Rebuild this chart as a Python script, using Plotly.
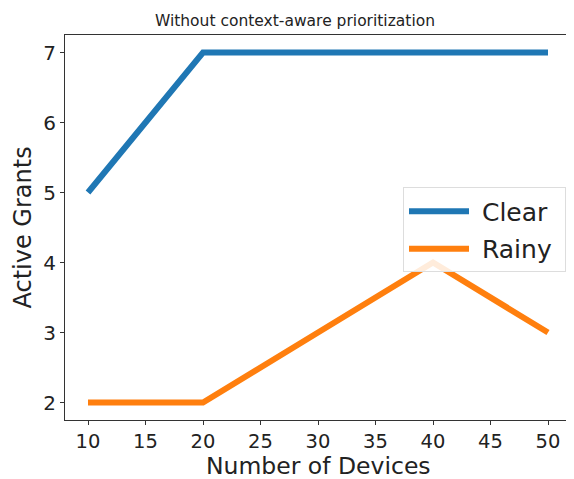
import plotly.graph_objects as go

devices = [10, 20, 30, 40, 50]
clear = [5, 7, 7, 7, 7]
rainy = [2, 2, 3, 4, 3]
x_ticks = [10, 15, 20, 25, 30, 35, 40, 45, 50]
y_ticks = [2, 3, 4, 5, 6, 7]

fig = go.Figure()
fig.add_trace(go.Scatter(x=devices, y=clear, mode="lines", name=" Clear ", legendgroup="a",
                         line=dict(color="#1f77b4", width=6)))
fig.add_trace(go.Scatter(x=devices, y=rainy, mode="lines", name=" Rainy ", legendgroup="b",
                         line=dict(color="#ff7f0e", width=6)))

font = "DejaVu Sans, Arial, sans-serif"
W, H = 566, 471  # page body has an 8px margin
fig.update_layout(
    width=W, height=H,
    margin=dict(l=57, r=3, t=27, b=59, autoexpand=False),
    paper_bgcolor="white", plot_bgcolor="white",
    font=dict(family=font, color="#222"),
    title=dict(text="Without context-aware prioritization", x=0.507, xanchor="center",
               y=1 - 13 / H, yanchor="middle", font=dict(size=15.5, color="#222")),
    legend=dict(x=0.668, y=0.604, xanchor="left", yanchor="top",
                bgcolor="rgba(255,255,255,0.85)", bordercolor="#ddd", borderwidth=1,
                font=dict(size=25, color="#222"), itemwidth=60, tracegroupgap=2),
    showlegend=True,
    annotations=[
        dict(text="Number of Devices", xref="paper", yref="paper", x=0.5, y=0,
             xanchor="center", yanchor="middle", yshift=-46, showarrow=False,
             font=dict(size=23.5, color="#222")),
        dict(text="Active Grants", xref="paper", yref="paper", x=0, y=0.5,
             xanchor="center", yanchor="middle", xshift=-43, textangle=-90,
             showarrow=False, font=dict(size=24, color="#222")),
    ],
)
fig.update_xaxes(range=[8, 52], tickvals=x_ticks, ticks="outside", ticklen=4,
                 tickcolor="#333", showgrid=False, zeroline=False, automargin=False,
                 showline=True, linecolor="#333", mirror=True, linewidth=1,
                 tickfont=dict(size=19.5))
fig.update_yaxes(range=[1.75, 7.25], tickvals=y_ticks, ticks="outside", ticklen=4,
                 tickcolor="#333", showgrid=False, zeroline=False, automargin=False,
                 showline=True, linecolor="#333", mirror=True, linewidth=1,
                 tickfont=dict(size=20))

fig.write_html("out.html")
